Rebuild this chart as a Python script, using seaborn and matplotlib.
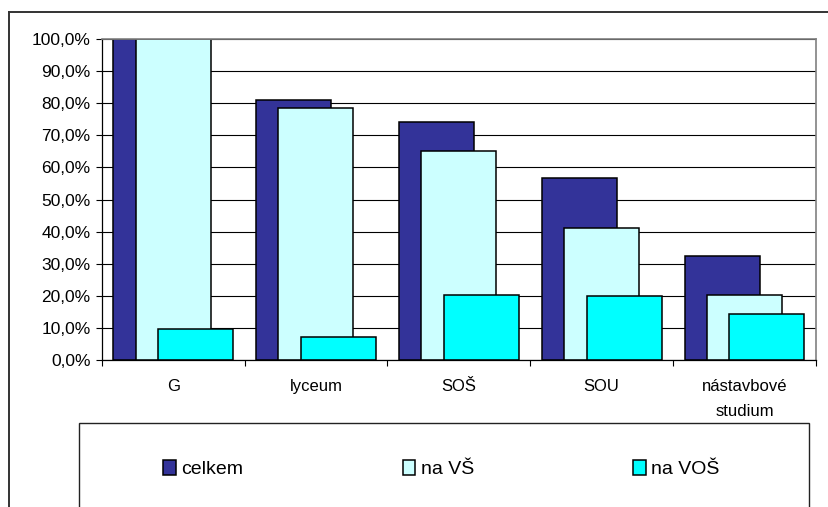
import matplotlib
matplotlib.use('Agg')
import matplotlib.pyplot as plt
import seaborn as sns
from matplotlib.lines import Line2D
from matplotlib.patches import Rectangle, Patch
from matplotlib.ticker import FuncFormatter, FixedLocator

# Data
kategorie = ['G', 'lyceum', 'SOŠ', 'SOU', 'nástavbové\nstudium']
celkem = [1.000, 0.810, 0.741, 0.566, 0.324]
na_vs = [1.000, 0.784, 0.651, 0.412, 0.202]
na_vos = [0.097, 0.073, 0.202, 0.200, 0.144]

serie = ['celkem', 'na VŠ', 'na VOŠ']
barvy = ['#333399', '#CCFFFF', '#00FFFF']
posun = [-0.157, 0.0, 0.157]

plt.rcParams['font.family'] = ['Liberation Sans', 'DejaVu Sans']

fig = plt.figure(figsize=(8.29, 5.07), dpi=100)
ax = fig.add_axes([0.1227, 0.2899, 0.8616, 0.6331])

# Grafy - prekryvajici se sloupce
for hodnoty, barva, dx in zip([celkem, na_vs, na_vos], barvy, posun):
    n0 = len(ax.patches)
    sns.barplot(x=kategorie, y=hodnoty, color=barva, saturation=1, width=0.525,
                edgecolor='black', linewidth=1.1, errorbar=None, ax=ax)
    for p in ax.patches[n0:]:
        p.set_x(p.get_x() + dx)

ax.set_xlim(-0.5, 4.5)
ax.set_ylim(0, 1)
ax.set_yticks([i / 10 for i in range(11)])
ax.yaxis.set_major_formatter(FuncFormatter(lambda v, _: f'{v * 100:.1f}%'.replace('.', ',')))
ax.yaxis.grid(True, color='black', linewidth=0.8)
ax.set_axisbelow(True)

ax.xaxis.set_minor_locator(FixedLocator([i - 0.5 for i in range(6)]))
ax.tick_params(axis='x', which='major', length=0, pad=14, labelsize=12)
ax.tick_params(axis='x', which='minor', length=4.5, width=0.8, direction='out')
ax.tick_params(axis='y', length=4, width=0.8, pad=4, labelsize=12.5)
for t in ax.get_xticklabels():
    t.set_linespacing(1.8)
ax.set_xlabel('')
ax.set_ylabel('')

for s in ['left', 'bottom']:
    ax.spines[s].set_color('black')
    ax.spines[s].set_linewidth(0.9)
for s in ['top', 'right']:
    ax.spines[s].set_color('#808080')
    ax.spines[s].set_linewidth(1.2)

# Ramecek grafu
fig.add_artist(Line2D([9.5 / 829, 1.0], [1 - 11.7 / 507] * 2, color='#333333', lw=1.4))
fig.add_artist(Line2D([9.5 / 829] * 2, [0.0, 1 - 11.7 / 507], color='#333333', lw=1.4))

# Legenda
fig.add_artist(Rectangle((78.7 / 829, -0.05), (809.3 - 78.7) / 829, 0.05 + 1 - 423.3 / 507,
                         transform=fig.transFigure, facecolor='none', edgecolor='#222222', lw=1.0))
handles = [Patch(facecolor=b, edgecolor='black', linewidth=1.1) for b in barvy]
fig.legend(handles, serie, ncol=3, loc='center left', bbox_to_anchor=(163 / 829, 1 - 469.3 / 507),
           frameon=False, fontsize=14, handlelength=0.65, handleheight=0.78, handletextpad=0.28,
           columnspacing=8.2, borderpad=0, borderaxespad=0)

plt.savefig('out.png', dpi=100)
